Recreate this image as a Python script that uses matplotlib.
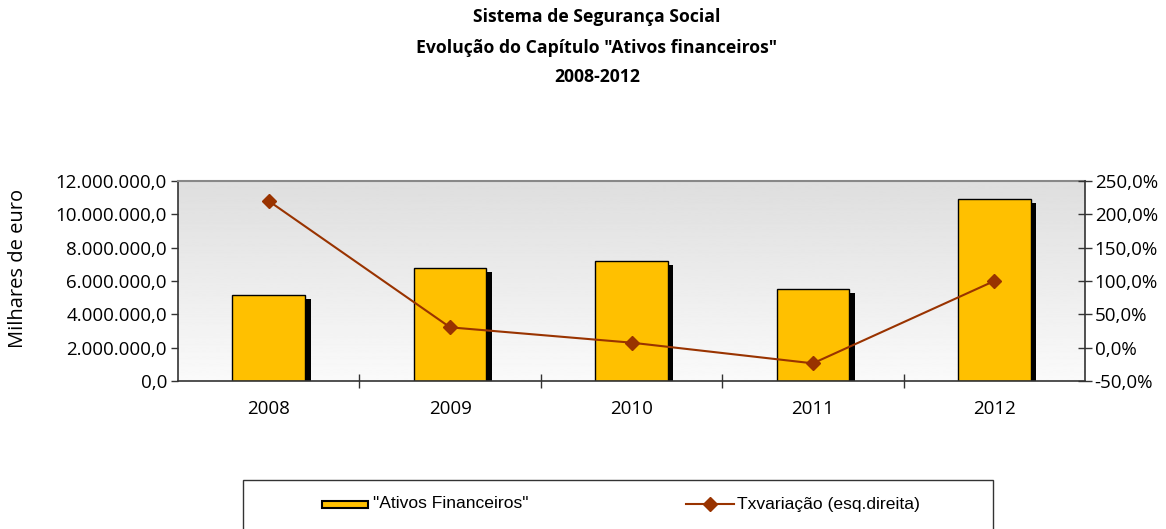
import numpy as np
import matplotlib.pyplot as plt
from matplotlib import patheffects
from matplotlib.patches import Rectangle
from matplotlib.lines import Line2D
from matplotlib.ticker import FuncFormatter, FixedLocator

# data
years = ['2008', '2009', '2010', '2011', '2012']
ativos = [5160000, 6800000, 7220000, 5500000, 10920000]
tx_variacao = [220.0, 30.5, 7.5, -23.5, 100.0]

plt.rcParams['font.family'] = ['Open Sans', 'DejaVu Sans']

W, H = 1166, 529
fig = plt.figure(figsize=(W / 100, H / 100), dpi=100)
ax = fig.add_axes([178 / W, 1 - 381 / H, 907 / W, 200 / H])

# grey gradient background with faint stripes
grad = np.linspace(0.98, 0.87, 256).reshape(-1, 1)
ax.imshow(grad, extent=[0, 1, 0, 1], transform=ax.transAxes, cmap='gray',
          vmin=0, vmax=1, aspect='auto', zorder=0, origin='lower')
for yy in np.arange(0.02, 1.0, 0.028):
    ax.axhline(yy, color='white', lw=0.9, alpha=0.55, zorder=0.5)

x = np.arange(len(years))
bars = ax.bar(x, ativos, width=0.4, color='#FFC000', edgecolor='black',
              linewidth=1.0, zorder=2)
for b in bars:
    b.set_path_effects([patheffects.SimplePatchShadow(offset=(4, -3),
                                                      shadow_rgbFace='black',
                                                      alpha=1.0),
                        patheffects.Normal()])

ax.set_xlim(-0.5, len(years) - 0.5)
ax.set_ylim(0, 12000000)
ax.set_yticks(np.arange(0, 12000001, 2000000))
ax.yaxis.set_major_formatter(FuncFormatter(
    lambda v, p: f'{v:,.1f}'.replace(',', 'X').replace('.', ',').replace('X', '.')))
ax.set_xticks(x)
ax.set_xticklabels(years)
ax.xaxis.set_minor_locator(FixedLocator(np.arange(0.5, len(years) - 1, 1)))
ax.tick_params(axis='x', which='major', length=0, pad=14, labelsize=13.5)
ax.tick_params(axis='x', which='minor', direction='inout', length=10, width=1, color='#333333')
ax.tick_params(axis='y', direction='out', length=5, width=1, color='#333333',
               labelsize=13.5, pad=3)

for s in ['left', 'bottom']:
    ax.spines[s].set_color('#333333')
    ax.spines[s].set_linewidth(1.2)
ax.spines['top'].set_color('#888888')
ax.spines['top'].set_linewidth(1.5)
ax.spines['right'].set_visible(False)

ax2 = ax.twinx()
ax2.plot(x, tx_variacao, color='#993300', lw=1.5, marker='D', markersize=7,
         markerfacecolor='#993300', markeredgecolor='#993300', zorder=3)
ax2.set_ylim(-50, 250)
ax2.set_yticks(np.arange(-50, 251, 50))
ax2.yaxis.set_major_formatter(FuncFormatter(lambda v, p: f'{v:.1f}%'.replace('.', ',')))
ax2.tick_params(axis='y', direction='inout', length=10, width=1, color='#333333',
                labelsize=13.5, pad=2)
ax2.spines['right'].set_color('#333333')
ax2.spines['right'].set_linewidth(1.2)
for s in ['left', 'top', 'bottom']:
    ax2.spines[s].set_visible(False)

fig.text(18 / W, 1 - 268 / H, 'Milhares de euro', rotation=90, ha='center', va='center',
         fontsize=14.5)

title_lines = ['Sistema de Segurança Social',
               'Evolução do Capítulo "Ativos financeiros"',
               '2008-2012']
for ty, t in zip([17, 48, 77], title_lines):
    fig.text(597 / W, 1 - ty / H, t, ha='center', va='center',
             fontsize=12.7, fontweight='bold')

# legend box (cut off at the bottom as in the original)
leg_font = ['Liberation Sans', 'DejaVu Sans']
fig.patches.append(Rectangle((243 / W, -0.05), 750 / W, 0.05 + (H - 480) / H,
                             transform=fig.transFigure, fill=False, edgecolor='#333333',
                             lw=1.0))
fig.patches.append(Rectangle((322 / W, 1 - 508 / H), 46 / W, 7 / H,
                             transform=fig.transFigure, facecolor='#FFC000',
                             edgecolor='black', lw=1.5))
fig.text(373 / W, 1 - 504 / H, '"Ativos Financeiros"', ha='left', va='center',
         fontsize=12.6, family=leg_font)
fig.lines.append(Line2D([686 / W, 734 / W], [1 - 504 / H, 1 - 504 / H],
                        transform=fig.transFigure, color='#993300', lw=1.5))
fig.lines.append(Line2D([710 / W], [1 - 504 / H], transform=fig.transFigure,
                        marker='D', markersize=7, color='#993300'))
fig.text(737 / W, 1 - 504 / H, 'Txvariação (esq.direita)', ha='left', va='center',
         fontsize=12.6, family=leg_font)

fig.savefig('out.png', dpi=100)
